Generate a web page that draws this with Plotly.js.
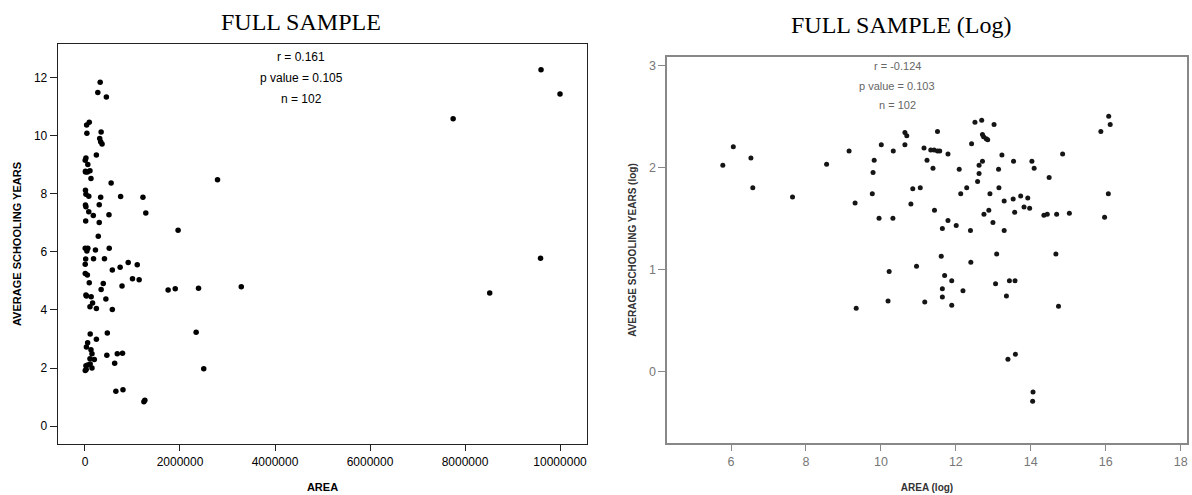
<!DOCTYPE html>
<html>
<head>
<meta charset="utf-8">
<script src="https://cdn.plot.ly/plotly-3.0.1.min.js"></script>
<style>html,body{margin:0;padding:0;background:#fff;}#chart{width:1192px;height:495px;}</style>
</head>
<body>
<div id="chart"></div>
<script>
// Left panel: AREA (raw) vs AVERAGE SCHOOLING YEARS
const areaRaw = [
  320000,270000,450000,90000,35000,40000,340000,310000,360000,330000,
  240000,20000,5000,60000,10000,50000,105000,126000,550000,2790000,
  10000,20000,80000,330000,750000,1220000,10000,20000,300000,1280000,
  80000,175000,505000,15000,300000,1960000,280000,5000,35000,60000,
  220000,510000,15000,180000,410000,5000,910000,1100000,740000,575000,
  6000,50000,1000000,1140000,90000,385000,780000,340000,1750000,1900000,
  2390000,3290000,20000,30000,130000,440000,160000,105000,240000,575000,
  2340000,470000,110000,240000,56000,30000,126000,147000,460000,680000,
  790000,105000,196000,625000,20000,56000,110000,147000,6000,2500000,
  650000,800000,1240000,1260000,9600000,10000000,9590000,8520000,7750000,
  12000,40000,25000
];
const schoolRaw = [
  11.85,11.5,11.34,10.47,10.38,10.09,10.14,9.91,9.72,9.80,
  9.34,9.24,9.16,9.02,8.78,8.76,8.80,8.53,8.38,8.49,
  8.13,7.99,7.92,7.89,7.91,7.89,7.62,7.56,7.63,7.34,
  7.39,7.26,7.28,7.07,7.02,6.75,6.54,6.13,6.10,6.13,
  6.07,6.13,5.76,5.77,5.77,5.58,5.64,5.56,5.47,5.38,
  5.26,5.21,5.08,5.04,4.94,4.91,4.83,4.71,4.69,4.73,
  4.75,4.80,4.52,4.48,4.46,4.38,4.24,4.11,4.05,4.02,
  3.23,3.21,3.17,2.99,2.87,2.72,2.63,2.49,2.44,2.49,
  2.51,2.32,2.29,2.16,2.08,2.10,2.14,2.00,1.91,1.97,
  1.20,1.25,0.84,0.89,12.28,11.45,5.78,4.59,10.59,
  8.76,6.03,1.95
];

// Right panel: AREA (log) vs AVERAGE SCHOOLING YEARS (log)
const areaLog = [
  5.78,6.06,6.53,6.58,7.64,8.55,9.15,9.31,9.79,9.82,
  9.77,9.95,10.32,10.01,10.33,10.64,10.69,10.64,10.85,11.05,
  10.80,10.95,10.22,10.19,9.34,
  11.51,12.51,12.69,13.02,12.71,12.74,12.81,12.85,12.42,11.15,
  11.33,11.42,11.51,11.57,11.79,11.23,11.39,12.09,12.62,12.71,
  12.62,12.58,13.14,13.23,13.54,14.03,14.09,14.85,14.49,16.08,
  16.12,15.87,
  11.43,12.29,12.13,12.91,13.15,13.29,13.53,13.73,13.92,13.82,
  13.97,13.57,12.88,12.75,11.79,12.01,11.64,12.39,12.99,13.29,
  14.35,14.44,14.69,15.03,16.07,15.97,
  11.61,13.09,14.67,12.40,11.70,11.89,11.64,11.64,12.19,13.06,
  13.43,13.58,13.35,11.17,11.89,14.74,
  13.39,13.59,14.06,14.05
];
const schoolLog = [
  2.02,2.20,2.09,1.80,1.71,2.03,2.16,1.65,1.95,2.07,
  1.74,1.50,1.50,2.22,2.16,2.34,2.31,2.22,1.79,1.80,
  1.64,1.03,0.98,0.69,0.62,
  2.35,2.44,2.46,2.42,2.32,2.30,2.28,2.27,2.23,2.19,
  2.17,2.17,2.16,2.16,2.13,2.07,1.99,1.98,2.02,2.06,
  1.94,1.86,1.98,2.12,2.06,2.06,1.99,2.13,1.90,2.50,
  2.42,2.35,
  1.58,1.80,1.74,1.74,1.80,1.67,1.69,1.72,1.70,1.61,
  1.60,1.56,1.58,1.54,1.48,1.43,1.40,1.38,1.46,1.38,
  1.53,1.54,1.54,1.55,1.74,1.51,
  1.13,1.15,1.15,1.07,0.94,0.89,0.81,0.73,0.79,0.86,
  0.89,0.89,0.74,0.68,0.65,0.64,
  0.12,0.17,-0.20,-0.29
];

const leftTicks = [0,2000000,4000000,6000000,8000000,10000000];
const leftYTicks = [0,2,4,6,8,10,12];
const rightXTicks = [6,8,10,12,14,16,18];
const rightYTicks = [0,1,2,3];
const leftStats = ['r = 0.161','p value = 0.105','n = 102'];
const rightStats = ['r = -0.124','p value = 0.103','n = 102'];

const W = 1192, H = 495;
const px = v => v / W;
const py = v => 1 - v / H;

const traces = [
  {x: areaRaw, y: schoolRaw, type: 'scatter', mode: 'markers', xaxis: 'x', yaxis: 'y',
   marker: {color: '#000', size: 5.5}, hoverinfo: 'x+y', showlegend: false},
  {x: areaLog, y: schoolLog, type: 'scatter', mode: 'markers', xaxis: 'x2', yaxis: 'y2',
   marker: {color: '#151515', size: 5}, hoverinfo: 'x+y', showlegend: false}
];

const axBase = {showgrid: false, zeroline: false, showline: true, mirror: true, ticks: 'outside', fixedrange: true};

const layout = {
  width: W, height: H, autosize: false,
  margin: {l: 0, r: 0, t: 0, b: 0},
  paper_bgcolor: '#fff', plot_bgcolor: '#fff',
  font: {family: 'Liberation Sans, Arial, sans-serif', color: '#000'},
  showlegend: false,
  xaxis: Object.assign({}, axBase, {
    domain: [px(58), px(587)], range: [-568000, 10568000],
    tickvals: leftTicks, tickformat: 'd',
    linecolor: '#222', linewidth: 1.3, ticklen: 6, tickcolor: '#222',
    tickfont: {size: 12, color: '#000'},
    title: {text: '<b>AREA</b>', font: {size: 11, color: '#000'}, standoff: 15}
  }),
  yaxis: Object.assign({}, axBase, {
    domain: [py(444), py(44)], range: [-0.62, 13.17],
    tickvals: leftYTicks,
    linecolor: '#222', linewidth: 1.3, ticklen: 7, tickcolor: '#222',
    tickfont: {size: 12, color: '#000'},
    title: {text: '<b>AVERAGE SCHOOLING YEARS</b>', font: {size: 11, color: '#000'}, standoff: 10}
  }),
  xaxis2: Object.assign({}, axBase, {
    domain: [px(667), px(1187)], range: [4.29, 18.17], anchor: 'y2',
    tickvals: rightXTicks,
    linecolor: '#888', linewidth: 1.6, ticklen: 6, tickcolor: '#888',
    tickfont: {size: 12.5, color: '#777'},
    title: {text: '<b>AREA (log)</b>', font: {size: 10, color: '#333'}, standoff: 16}
  }),
  yaxis2: Object.assign({}, axBase, {
    domain: [py(443), py(57)], range: [-0.70, 3.08], anchor: 'x2',
    tickvals: rightYTicks,
    linecolor: '#888', linewidth: 1.6, ticklen: 7, tickcolor: '#888',
    tickfont: {size: 12.5, color: '#777'},
    title: {text: '<b>AVERAGE SCHOOLING YEARS (log)</b>', font: {size: 10, color: '#333'}, standoff: 10}
  }),
  annotations: [
    {text: 'FULL SAMPLE', xref: 'paper', yref: 'paper', x: px(301), y: py(22), xanchor: 'center', yanchor: 'middle', showarrow: false,
     font: {family: 'Liberation Serif, Times New Roman, serif', size: 24, color: '#000'}},
    {text: 'FULL SAMPLE (Log)', xref: 'paper', yref: 'paper', x: px(901), y: py(25), xanchor: 'center', yanchor: 'middle', showarrow: false,
     font: {family: 'Liberation Serif, Times New Roman, serif', size: 24, color: '#000'}},
  ].concat(leftStats.map((t, i) => ({
    text: t, xref: 'paper', yref: 'paper', x: px(301), y: py(57 + 21 * i), xanchor: 'center', yanchor: 'middle', showarrow: false,
    font: {size: 12, color: '#000'}
  }))).concat(rightStats.map((t, i) => ({
    text: t, xref: 'paper', yref: 'paper', x: px(897), y: py(66 + 19.5 * i), xanchor: 'center', yanchor: 'middle', showarrow: false,
    font: {size: 11, color: '#666'}
  })))
};

Plotly.newPlot('chart', traces, layout, {displayModeBar: false, staticPlot: true});
</script>
</body>
</html>
